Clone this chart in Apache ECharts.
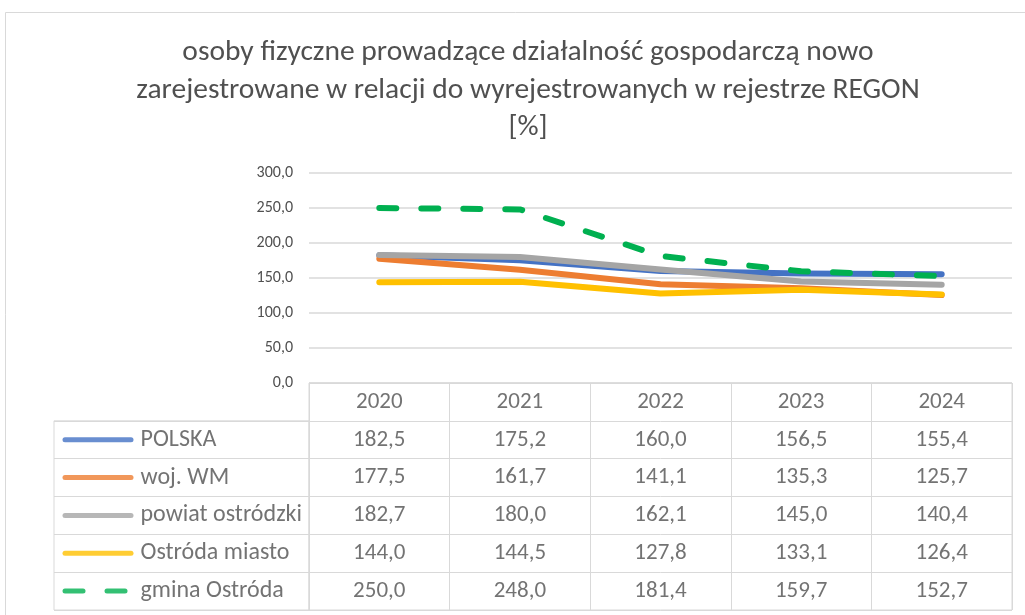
<!DOCTYPE html>
<html>
<head>
<meta charset="utf-8">
<script src="https://cdn.jsdelivr.net/npm/echarts@6/dist/echarts.min.js"></script>
<style>
  html, body { margin: 0; padding: 0; background: #fff; }
  #chart { width: 1025px; height: 615px; }
</style>
</head>
<body>
<div id="chart"></div>
<script>
// dane z wykresu
var years = ['2020', '2021', '2022', '2023', '2024'];
var names = ['POLSKA', 'woj. WM', 'powiat ostródzki', 'Ostróda miasto', 'gmina Ostróda'];
var polska = [182.5, 175.2, 160.0, 156.5, 155.4];
var wojWM = [177.5, 161.7, 141.1, 135.3, 125.7];
var powiat = [182.7, 180.0, 162.1, 145.0, 140.4];
var miasto = [144.0, 144.5, 127.8, 133.1, 126.4];
var gmina = [250.0, 248.0, 181.4, 159.7, 152.7];
var colors = ['#4472C4', '#ED7D31', '#A5A5A5', '#FFC000', '#00B050'];

var font = 'Carlito, Calibri, Lato, sans-serif';
var textColor = '#505050';
var lineColor = '#D9D9D9';

var chart = echarts.init(document.getElementById('chart'));
var allSeries = [polska, wojWM, powiat, miasto, gmina];

function fmt(v) {
  return v.toFixed(1).replace('.', ',');
}

// komorki tabeli: naglowek + wartosci
var tableCells = [];
years.forEach(function (y, c) {
  tableCells.push([c, 0, y]);
});
allSeries.forEach(function (s, r) {
  s.forEach(function (v, c) {
    tableCells.push([c, r + 1, fmt(v)]);
  });
});

// legenda w pierwszej kolumnie tabeli
var legendCells = names.map(function (n, r) {
  return [0, r, n];
});

var rowsTop = 383;
var tableH = 227;
var rowH = tableH / 6;

var lineSeries = allSeries.map(function (s, i) {
  return {
    name: names[i],
    type: 'line',
    xAxisIndex: 0,
    yAxisIndex: 0,
    data: s,
    symbol: 'none',
    silent: true,
    z: 2 + i,
    lineStyle: {
      color: colors[i],
      width: 6,
      type: i == 4 ? [17, 25] : 'solid',
      cap: 'round',
      join: 'round'
    }
  };
});

var option = {
  backgroundColor: '#fff',
  animation: false,
  title: {
    text: 'osoby fizyczne prowadzące działalność gospodarczą nowo\nzarejestrowane w relacji do wyrejestrowanych w rejestrze REGON\n[%]',
    left: 523,
    top: 29,
    textAlign: 'center',
    textStyle: {
      fontFamily: font,
      fontWeight: 'normal',
      fontSize: 29.5,
      lineHeight: 37.5,
      color: textColor
    }
  },
  graphic: [{
    type: 'rect',
    shape: { x: 5.5, y: 12.5, width: 1040, height: 640 },
    style: { fill: 'none', stroke: '#D9D9D9', lineWidth: 1 },
    silent: true
  }],
  grid: [
    { left: 309, right: 13, top: 173, height: 210 },
    { left: 309, right: 13, top: rowsTop, height: tableH, show: true, borderColor: lineColor, borderWidth: 1 },
    { left: 54, width: 255, top: rowsTop + rowH, height: tableH - rowH, show: true, borderColor: lineColor, borderWidth: 1 }
  ],
  xAxis: [
    {
      gridIndex: 0, type: 'category', data: years, boundaryGap: true,
      axisLine: { show: false }, axisTick: { show: false }, axisLabel: { show: false }
    },
    {
      gridIndex: 1, type: 'category', data: years, boundaryGap: true,
      axisLine: { show: false }, axisTick: { show: false }, axisLabel: { show: false },
      splitLine: { show: true, interval: 0, lineStyle: { color: lineColor, width: 1 } }
    },
    {
      gridIndex: 2, type: 'value', min: 0, max: 1, show: false
    }
  ],
  yAxis: [
    {
      gridIndex: 0, type: 'value', min: 0, max: 300, interval: 50,
      axisLine: { show: false }, axisTick: { show: false },
      axisLabel: {
        formatter: fmt, margin: 16, fontFamily: font, fontSize: 16, color: textColor
      },
      splitLine: { lineStyle: { color: lineColor, width: 1.5 } }
    },
    {
      gridIndex: 1, type: 'category', inverse: true, data: ['h', '0', '1', '2', '3', '4'],
      boundaryGap: true,
      axisLine: { show: false }, axisTick: { show: false }, axisLabel: { show: false },
      splitLine: { show: true, interval: 0, lineStyle: { color: lineColor, width: 1 } }
    },
    {
      gridIndex: 2, type: 'category', inverse: true, data: names,
      boundaryGap: true,
      axisLine: { show: false }, axisTick: { show: false }, axisLabel: { show: false },
      splitLine: { show: true, interval: 0, lineStyle: { color: lineColor, width: 1 } }
    }
  ],
  series: lineSeries.concat([
    {
      type: 'scatter',
      xAxisIndex: 1,
      yAxisIndex: 1,
      data: tableCells,
      symbolSize: 1,
      silent: true,
      itemStyle: { color: 'rgba(0,0,0,0)' },
      label: {
        show: true,
        position: 'inside',
        formatter: function (p) { return p.data[2]; },
        fontFamily: font,
        fontSize: 23,
        color: textColor
      }
    },
    {
      type: 'scatter',
      xAxisIndex: 2,
      yAxisIndex: 2,
      data: legendCells,
      symbolSize: 1,
      silent: true,
      itemStyle: { color: 'rgba(0,0,0,0)' },
      label: {
        show: true,
        position: 'right',
        distance: 8,
        formatter: function (p) {
          if (p.dataIndex == 4) {
            return '{d4|}{g|}{d4|}{td|' + p.data[2] + '}';
          }
          return '{s' + p.dataIndex + '|}{t|' + p.data[2] + '}';
        },
        rich: {
          s0: { width: 71, height: 5, backgroundColor: colors[0], borderRadius: 3 },
          s1: { width: 71, height: 5, backgroundColor: colors[1], borderRadius: 3 },
          s2: { width: 71, height: 5, backgroundColor: colors[2], borderRadius: 3 },
          s3: { width: 71, height: 5, backgroundColor: colors[3], borderRadius: 3 },
          d4: { width: 23, height: 5, backgroundColor: colors[4], borderRadius: 3 },
          g: { width: 19, height: 5 },
          t: { fontFamily: font, fontSize: 24, color: textColor, padding: [0, 0, 0, 7] },
          td: { fontFamily: font, fontSize: 24, color: textColor, padding: [0, 0, 0, 13] }
        }
      }
    }
  ])
};

chart.setOption(option);
</script>
</body>
</html>
